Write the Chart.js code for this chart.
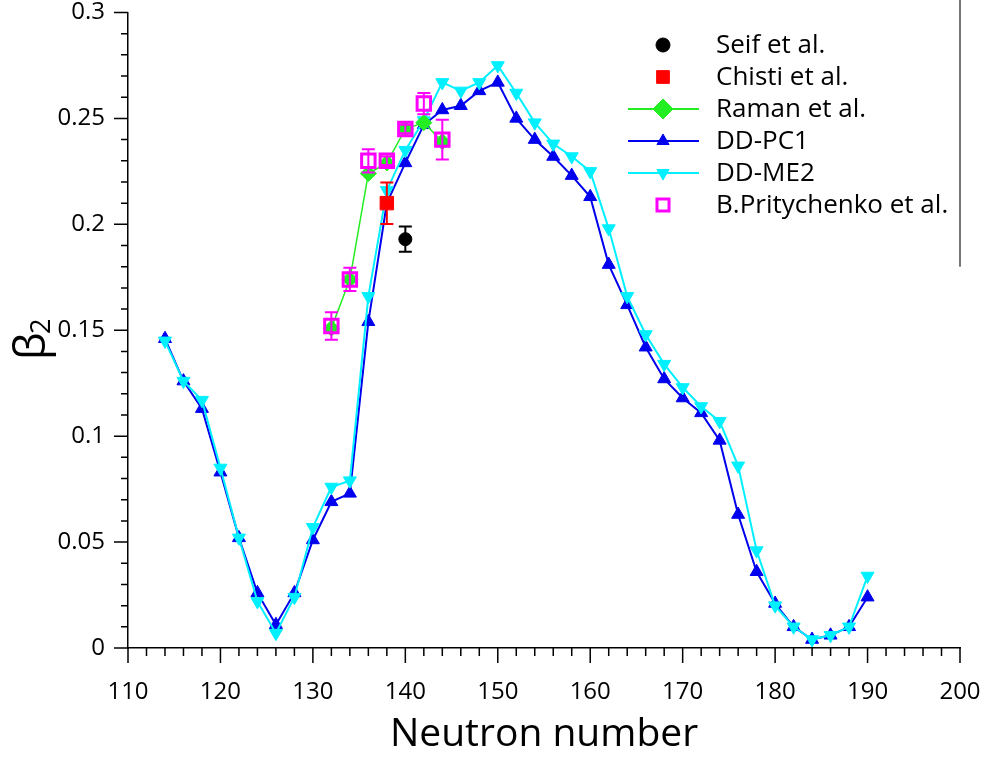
<!DOCTYPE html>
<html>
<head>
<meta charset="utf-8">
<script src="https://cdn.jsdelivr.net/npm/chart.js@4.4.1/dist/chart.umd.min.js"></script>
<style>
  html, body { margin: 0; padding: 0; background: #fff; }
</style>
</head>
<body>
<canvas id="chart" width="989" height="760"></canvas>
<script>
// Neutron numbers of the theory curves
const neutrons = [114, 116, 118, 120, 122, 124, 126, 128, 130, 132, 134, 136, 138, 140, 142, 144, 146, 148, 150,
  152, 154, 156, 158, 160, 162, 164, 166, 168, 170, 172, 174, 176, 178, 180, 182, 184, 186, 188, 190];

const ddpc1 = [0.146, 0.126, 0.113, 0.083, 0.052, 0.026, 0.011, 0.026, 0.051, 0.069, 0.073, 0.154, 0.210, 0.229,
  0.247, 0.254, 0.256, 0.263, 0.267, 0.250, 0.240, 0.232, 0.223, 0.213, 0.181, 0.162, 0.142, 0.127, 0.118,
  0.111, 0.098, 0.063, 0.036, 0.021, 0.010, 0.004, 0.006, 0.010, 0.024];

const ddme2 = [0.145, 0.126, 0.117, 0.085, 0.052, 0.022, 0.007, 0.024, 0.057, 0.076, 0.079, 0.166, 0.216, 0.235,
  0.249, 0.267, 0.263, 0.267, 0.275, 0.262, 0.248, 0.238, 0.232, 0.225, 0.198, 0.166, 0.148, 0.134, 0.123,
  0.114, 0.107, 0.086, 0.046, 0.020, 0.010, 0.004, 0.006, 0.010, 0.034];

// Experimental / evaluated values
const ramanN = [132, 134, 136, 138, 140, 142, 144];
const ramanB = [0.151, 0.174, 0.224, 0.229, 0.245, 0.248, 0.239];

const pritN = [132, 134, 136, 138, 140, 142, 144];
const pritB = [0.152, 0.174, 0.230, 0.230, 0.245, 0.257, 0.240];
const pritErr = [0.0065, 0.0055, 0.0055, 0.002, 0.002, 0.005, 0.0094];

const chistiN = [138];
const chistiB = [0.210];
const chistiErr = [0.0098];

const seifN = [140];
const seifB = [0.193];
const seifErr = [0.006];

const xTicks = [110, 120, 130, 140, 150, 160, 170, 180, 190, 200];
const yTicks = [0, 0.05, 0.1, 0.15, 0.2, 0.25, 0.3];

const FONT = '"Open Sans", "Noto Sans", sans-serif';
const toPts = (xs, ys) => xs.map((x, i) => ({ x, y: ys[i] }));

// vertical error bars with caps
const errorBars = {
  id: 'errorBars',
  afterDatasetsDraw(chart) {
    const { ctx, scales: { x, y } } = chart;
    chart.data.datasets.forEach(ds => {
      if (!ds.errors) return;
      ctx.save();
      ctx.strokeStyle = ds.errorColor;
      ctx.lineWidth = 2;
      ctx.beginPath();
      ds.data.forEach((p, i) => {
        const px = x.getPixelForValue(p.x);
        const top = y.getPixelForValue(p.y + ds.errors[i]);
        const bot = y.getPixelForValue(p.y - ds.errors[i]);
        ctx.moveTo(px, top); ctx.lineTo(px, bot);
        ctx.moveTo(px - 6.5, top); ctx.lineTo(px + 6.5, top);
        ctx.moveTo(px - 6.5, bot); ctx.lineTo(px + 6.5, bot);
      });
      ctx.stroke();
      ctx.restore();
    });
  }
};

// major / minor tick marks, partial right frame and the y title
const axisDecor = {
  id: 'axisDecor',
  afterDraw(chart) {
    const { ctx, chartArea: a, scales: { x, y } } = chart;
    ctx.save();
    ctx.strokeStyle = '#000';
    ctx.lineWidth = 1.5;
    ctx.beginPath();
    for (let v = 110; v <= 200; v += 2) {
      const px = x.getPixelForValue(v);
      ctx.moveTo(px, a.bottom);
      ctx.lineTo(px, a.bottom + (v % 10 === 0 ? 15 : 8));
    }
    for (let k = 0; k <= 30; k++) {
      const py = y.getPixelForValue(k / 100);
      ctx.moveTo(a.left, py);
      ctx.lineTo(a.left - (k % 5 === 0 ? 14 : 7), py);
    }
    ctx.stroke();

    ctx.strokeStyle = '#777';
    ctx.lineWidth = 2;
    ctx.beginPath();
    ctx.moveTo(a.right, 0);
    ctx.lineTo(a.right, y.getPixelForValue(0.18));
    ctx.stroke();

    // beta_2 title
    ctx.translate(32, 336);
    ctx.rotate(-Math.PI / 2);
    ctx.fillStyle = '#000';
    ctx.textBaseline = 'middle';
    ctx.textAlign = 'left';
    ctx.font = '44px ' + FONT;
    ctx.fillText('β', -24, 0);
    ctx.font = '27px ' + FONT;
    ctx.fillText('2', 2, 10);
    ctx.restore();
  }
};

// legend with line + marker samples
const legendBox = {
  id: 'legendBox',
  afterDraw(chart) {
    const { ctx } = chart;
    const rows = chart.data.datasets.slice().sort((a, b) => a.legendRank - b.legendRank);
    ctx.save();
    ctx.font = '26px ' + FONT;
    ctx.textBaseline = 'middle';
    ctx.textAlign = 'left';
    rows.forEach((ds, i) => {
      const cy = 45 + i * 32;
      if (ds.showLine) {
        ctx.strokeStyle = ds.borderColor;
        ctx.lineWidth = 2;
        ctx.beginPath();
        ctx.moveTo(628, cy); ctx.lineTo(699, cy);
        ctx.stroke();
      }
      ctx.fillStyle = ds.pointBackgroundColor;
      ctx.strokeStyle = ds.pointBorderColor;
      ctx.lineWidth = ds.pointBorderWidth;
      Chart.helpers.drawPoint(ctx, {
        pointStyle: ds.pointStyle,
        radius: ds.legendRadius,
        rotation: ds.pointRotation || 0,
        borderWidth: ds.pointBorderWidth
      }, 663, cy);
      ctx.fillStyle = '#000';
      ctx.fillText(ds.label, 716, cy + 1);
    });
    ctx.restore();
  }
};

new Chart(document.getElementById('chart').getContext('2d'), {
  type: 'scatter',
  data: {
    datasets: [
      {
        label: 'B.Pritychenko et al.',
        data: toPts(pritN, pritB),
        errors: pritErr,
        errorColor: '#ff00ff',
        showLine: false,
        pointStyle: 'rect',
        pointRadius: 9.5,
        legendRadius: 8.5,
        pointBackgroundColor: 'rgba(0,0,0,0)',
        pointBorderColor: '#ff00ff',
        pointBorderWidth: 3,
        order: 0,
        legendRank: 5
      },
      {
        label: 'Chisti et al.',
        data: toPts(chistiN, chistiB),
        errors: chistiErr,
        errorColor: '#ff0000',
        showLine: false,
        pointStyle: 'rect',
        pointRadius: 9.5,
        legendRadius: 9,
        pointBackgroundColor: '#ff0000',
        pointBorderColor: '#ff0000',
        pointBorderWidth: 1,
        order: 1,
        legendRank: 1
      },
      {
        label: 'Seif et al.',
        data: toPts(seifN, seifB),
        errors: seifErr,
        errorColor: '#000000',
        showLine: false,
        pointStyle: 'circle',
        pointRadius: 6.5,
        legendRadius: 7,
        pointBackgroundColor: '#000000',
        pointBorderColor: '#000000',
        pointBorderWidth: 1,
        order: 2,
        legendRank: 0
      },
      {
        label: 'Raman et al.',
        data: toPts(ramanN, ramanB),
        showLine: true,
        borderColor: '#22ee22',
        borderWidth: 1.5,
        pointStyle: 'rectRot',
        pointRadius: 8,
        legendRadius: 10,
        pointBackgroundColor: '#22ee22',
        pointBorderColor: '#22ee22',
        pointBorderWidth: 1,
        order: 3,
        legendRank: 2
      },
      {
        label: 'DD-ME2',
        data: toPts(neutrons, ddme2),
        showLine: true,
        borderColor: '#00f0ff',
        borderWidth: 2,
        pointStyle: 'triangle',
        pointRotation: 180,
        pointRadius: 7.5,
        legendRadius: 7,
        pointBackgroundColor: '#00f0ff',
        pointBorderColor: '#00f0ff',
        pointBorderWidth: 1,
        order: 4,
        legendRank: 4
      },
      {
        label: 'DD-PC1',
        data: toPts(neutrons, ddpc1),
        showLine: true,
        borderColor: '#0000ee',
        borderWidth: 2,
        pointStyle: 'triangle',
        pointRadius: 7.5,
        legendRadius: 7,
        pointBackgroundColor: '#0000ee',
        pointBorderColor: '#0000ee',
        pointBorderWidth: 1,
        order: 5,
        legendRank: 3
      }
    ]
  },
  options: {
    responsive: false,
    animation: false,
    layout: { padding: { top: 12, right: 29, left: 0, bottom: 0 } },
    plugins: {
      legend: { display: false },
      tooltip: { enabled: false }
    },
    scales: {
      x: {
        type: 'linear',
        min: 110,
        max: 200,
        afterBuildTicks: scale => { scale.ticks = xTicks.map(value => ({ value })); },
        afterFit: scale => {
          scale.height = 112;
          scale.paddingLeft = 0;
          scale.paddingRight = 0;
        },
        grid: { display: true, drawOnChartArea: false, drawTicks: false },
        border: { display: true, color: '#000', width: 1.5 },
        ticks: { color: '#000', padding: 30, maxRotation: 0, font: { family: FONT, size: 24 } },
        title: {
          display: true,
          text: 'Neutron number',
          color: '#000',
          font: { family: FONT, size: 39 },
          padding: { top: 0, bottom: 2 }
        }
      },
      y: {
        type: 'linear',
        min: 0,
        max: 0.3,
        afterBuildTicks: scale => { scale.ticks = yTicks.map(value => ({ value })); },
        afterFit: scale => {
          scale.width = 128;
          scale.paddingTop = 0;
          scale.paddingBottom = 0;
        },
        grid: { display: true, drawOnChartArea: false, drawTicks: false },
        border: { display: true, color: '#000', width: 1.5 },
        ticks: {
          color: '#000',
          padding: 23,
          font: { family: FONT, size: 24 },
          callback: v => String(Number(v.toFixed(2)))
        }
      }
    }
  },
  plugins: [errorBars, axisDecor, legendBox]
});
</script>
</body>
</html>
